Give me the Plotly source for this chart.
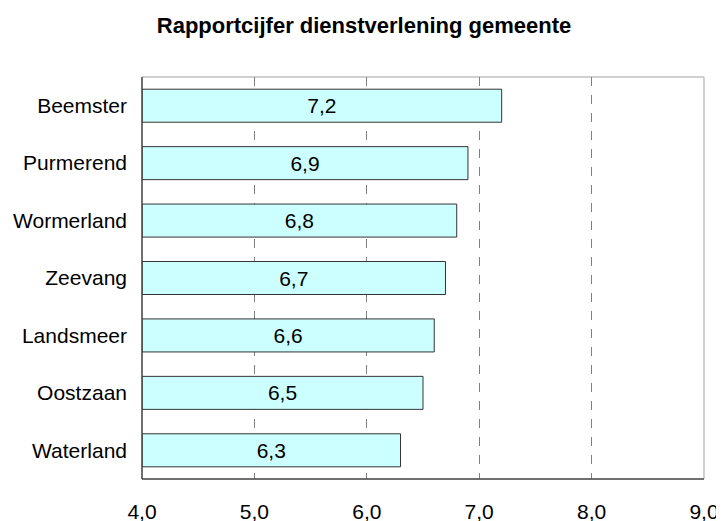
import plotly.graph_objects as go

gemeenten = ["Beemster", "Purmerend", "Wormerland", "Zeevang", "Landsmeer", "Oostzaan", "Waterland"]
cijfers = [7.2, 6.9, 6.8, 6.7, 6.6, 6.5, 6.3]
tick_vals = [4, 5, 6, 7, 8, 9]
tick_text = ["4,0", "5,0", "6,0", "7,0", "8,0", "9,0"]
labels = [f"{v:.1f}".replace(".", ",") for v in cijfers]

AXIS_MIN = 4
FONT = "Liberation Sans, Arial, sans-serif"

# bars start at the axis minimum so the value labels are centred in the visible part
fig = go.Figure(go.Bar(
    y=gemeenten, x=[v - AXIS_MIN for v in cijfers], base=AXIS_MIN, orientation="h",
    marker=dict(color="#CCFFFF", line=dict(color="#333333", width=1)),
    text=labels, textposition="inside", insidetextanchor="middle",
    textangle=0,
    textfont=dict(family=FONT, size=21, color="#000000"),
    hovertext=labels, hoverinfo="y+text",
))

# page body has an 8px margin, so the figure is 8px smaller than the window
fig.update_layout(
    width=716, height=513,
    margin=dict(l=134, r=20, t=69, b=42),
    paper_bgcolor="white", plot_bgcolor="white",
    bargap=0.425,
    showlegend=False,
    title=dict(text="<b>Rapportcijfer dienstverlening gemeente</b>",
               x=(364 - 8) / 716, xref="container", xanchor="center",
               y=1 - 17 / 513, yanchor="middle",
               font=dict(family=FONT, size=22, color="#000000")),
    xaxis=dict(range=[AXIS_MIN, 9], tickvals=tick_vals, ticktext=tick_text,
               showgrid=True, gridcolor="#808080", griddash="dash", gridwidth=1,
               zeroline=False, showline=False, automargin=False,
               ticks="", ticklabelstandoff=18,
               tickfont=dict(family=FONT, size=21, color="#000000"),
               layer="below traces"),
    yaxis=dict(categoryorder="array", categoryarray=gemeenten[::-1],
               showgrid=False, zeroline=False, showline=False, ticks="",
               automargin=False, ticklabelstandoff=14,
               tickfont=dict(family=FONT, size=21, color="#000000")),
)

# plot-area frame: light top/right, dark left/bottom
fig.add_shape(type="line", xref="paper", yref="paper", x0=0, x1=1, y0=1, y1=1,
              line=dict(color="#C0C0C0", width=1.5), layer="below")
fig.add_shape(type="line", xref="paper", yref="paper", x0=1, x1=1, y0=0, y1=1,
              line=dict(color="#C0C0C0", width=1.5), layer="below")
fig.add_shape(type="line", xref="paper", yref="paper", x0=0, x1=0, y0=0, y1=1,
              line=dict(color="#404040", width=1.5), layer="above")
fig.add_shape(type="line", xref="paper", yref="paper", x0=0, x1=1, y0=0, y1=0,
              line=dict(color="#404040", width=1.5), layer="above")

fig.write_html("out.html")
